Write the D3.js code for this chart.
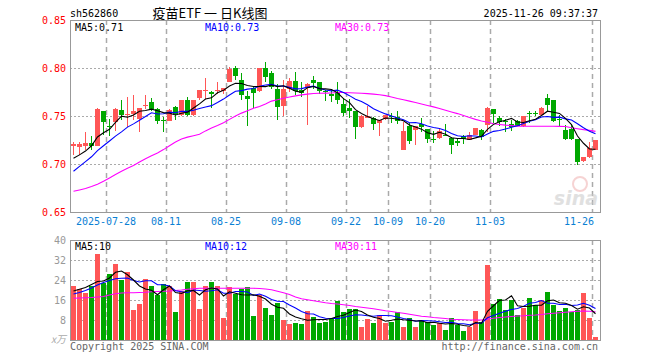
<!DOCTYPE html>
<html>
<head>
<meta charset="utf-8">
<script src="https://cdn.jsdelivr.net/npm/d3@7"></script>
<style>
  body { margin: 0; background: #fff; }
  svg text { font-family: "DejaVu Sans Mono", monospace; font-size: 10px; }
</style>
</head>
<body>
<svg id="chart" width="660" height="360"></svg>
<script>
// trading days shown (2025)
const dates = [
  '07-18','07-21','07-22','07-23','07-24','07-25','07-28','07-29','07-30','07-31',
  '08-01','08-04','08-05','08-06','08-07','08-08','08-11','08-12','08-13','08-14',
  '08-15','08-18','08-19','08-20','08-21','08-22','08-25','08-26','08-27','08-28',
  '08-29','09-01','09-02','09-03','09-04','09-05','09-08','09-09','09-10','09-11',
  '09-12','09-15','09-16','09-17','09-18','09-19','09-22','09-23','09-24','09-25',
  '09-26','09-29','09-30','10-09','10-10','10-13','10-14','10-15','10-16','10-17',
  '10-20','10-21','10-22','10-23','10-24','10-27','10-28','10-29','10-30','10-31',
  '11-03','11-04','11-05','11-06','11-07','11-10','11-11','11-12','11-13','11-14',
  '11-17','11-18','11-19','11-20','11-21','11-24','11-25','11-26'
];

const open = [
  0.7185,0.7180,0.7191,0.7222,0.7191,0.7556,0.7400,0.7434,0.7566,0.7514,
  0.7525,0.7472,0.7601,0.7650,0.7577,0.7455,0.7452,0.7597,0.7510,0.7662,
  0.7507,0.7683,0.7769,0.7753,0.7757,0.7757,0.7851,0.8000,0.7879,0.7713,
  0.7792,0.7757,0.8000,0.7950,0.7781,0.7601,0.7780,0.7868,0.7774,0.7795,
  0.7879,0.7856,0.7757,0.7732,0.7753,0.7629,0.7584,0.7557,0.7386,0.7484,
  0.7480,0.7430,0.7472,0.7505,0.7485,0.7150,0.7400,0.7349,0.7420,0.7365,
  0.7264,0.7271,0.7306,0.7275,0.7240,0.7296,0.7254,0.7306,0.7358,0.7410,
  0.7573,0.7480,0.7448,0.7421,0.7445,0.7393,0.7528,0.7528,0.7514,0.7688,
  0.7670,0.7465,0.7358,0.7365,0.7264,0.7028,0.7070,0.7150
];
const high = [
  0.7226,0.7226,0.7337,0.7296,0.7584,0.7556,0.7470,0.7584,0.7670,0.7698,
  0.7722,0.7584,0.7722,0.7688,0.7584,0.7490,0.7573,0.7600,0.7668,0.7700,
  0.7668,0.7774,0.7900,0.7757,0.7849,0.7796,0.8012,0.8017,0.7950,0.7765,
  0.7815,0.8000,0.8065,0.7965,0.7830,0.7870,0.7896,0.7955,0.7858,0.7840,
  0.7913,0.7856,0.7774,0.7774,0.7851,0.7688,0.7680,0.7557,0.7508,0.7601,
  0.7486,0.7462,0.7509,0.7528,0.7549,0.7434,0.7427,0.7400,0.7480,0.7365,
  0.7341,0.7365,0.7420,0.7278,0.7261,0.7306,0.7330,0.7376,0.7365,0.7590,
  0.7573,0.7504,0.7469,0.7462,0.7455,0.7497,0.7549,0.7556,0.7590,0.7729,
  0.7670,0.7514,0.7410,0.7410,0.7264,0.7070,0.7226,0.7247
];
const low = [
  0.7098,0.7096,0.7145,0.7150,0.7191,0.7299,0.7289,0.7341,0.7462,0.7386,
  0.7462,0.7330,0.7577,0.7549,0.7417,0.7330,0.7445,0.7455,0.7497,0.7500,
  0.7498,0.7665,0.7675,0.7580,0.7730,0.7727,0.7851,0.7879,0.7670,0.7400,
  0.7584,0.7747,0.7850,0.7778,0.7462,0.7497,0.7752,0.7718,0.7700,0.7410,
  0.7781,0.7730,0.7660,0.7646,0.7627,0.7502,0.7482,0.7257,0.7375,0.7480,
  0.7358,0.7289,0.7462,0.7424,0.7420,0.7143,0.7212,0.7201,0.7330,0.7219,
  0.7219,0.7261,0.7289,0.7100,0.7188,0.7207,0.7247,0.7299,0.7247,0.7334,
  0.7425,0.7398,0.7334,0.7340,0.7393,0.7382,0.7427,0.7497,0.7504,0.7549,
  0.7434,0.7393,0.7254,0.7254,0.6994,0.7018,0.7063,0.7143
];
const close = [
  0.7212,0.7210,0.7219,0.7190,0.7577,0.7434,0.7386,0.7577,0.7514,0.7525,
  0.7549,0.7584,0.7618,0.7577,0.7448,0.7448,0.7559,0.7520,0.7663,0.7510,
  0.7668,0.7768,0.7774,0.7725,0.7776,0.7792,0.7993,0.7913,0.7718,0.7673,
  0.7737,0.8000,0.7903,0.7800,0.7590,0.7781,0.7866,0.7760,0.7740,0.7830,
  0.7840,0.7757,0.7748,0.7705,0.7662,0.7531,0.7549,0.7382,0.7504,0.7504,
  0.7418,0.7462,0.7507,0.7495,0.7452,0.7340,0.7237,0.7400,0.7386,0.7261,
  0.7261,0.7348,0.7295,0.7202,0.7222,0.7261,0.7300,0.7376,0.7282,0.7584,
  0.7525,0.7438,0.7445,0.7382,0.7400,0.7497,0.7524,0.7525,0.7584,0.7618,
  0.7445,0.7462,0.7264,0.7264,0.7018,0.7070,0.7167,0.7247
];

const ma5 = [
  0.7060,0.7095,0.7135,0.7190,0.7282,0.7326,0.7361,0.7433,0.7498,0.7487,
  0.7510,0.7550,0.7558,0.7571,0.7555,0.7535,0.7530,0.7510,0.7528,0.7540,
  0.7584,0.7626,0.7677,0.7689,0.7742,0.7767,0.7812,0.7840,0.7838,0.7818,
  0.7807,0.7808,0.7806,0.7823,0.7806,0.7815,0.7788,0.7759,0.7747,0.7795,
  0.7807,0.7785,0.7783,0.7776,0.7742,0.7681,0.7639,0.7566,0.7526,0.7494,
  0.7471,0.7454,0.7479,0.7477,0.7467,0.7451,0.7406,0.7385,0.7363,0.7325,
  0.7309,0.7331,0.7310,0.7273,0.7266,0.7266,0.7256,0.7272,0.7288,0.7361,
  0.7413,0.7441,0.7455,0.7475,0.7438,0.7432,0.7450,0.7466,0.7506,0.7550,
  0.7539,0.7527,0.7475,0.7411,0.7291,0.7216,0.7157,0.7153
];
const ma10 = [
  0.6925,0.6975,0.7025,0.7075,0.7140,0.7190,0.7240,0.7290,0.7335,0.7384,
  0.7418,0.7456,0.7495,0.7534,0.7521,0.7523,0.7540,0.7534,0.7549,0.7548,
  0.7560,0.7578,0.7594,0.7608,0.7641,0.7676,0.7719,0.7758,0.7764,0.7780,
  0.7787,0.7810,0.7823,0.7831,0.7812,0.7811,0.7798,0.7783,0.7785,0.7801,
  0.7811,0.7787,0.7771,0.7762,0.7769,0.7744,0.7712,0.7674,0.7651,0.7618,
  0.7576,0.7547,0.7522,0.7501,0.7480,0.7461,0.7430,0.7432,0.7420,0.7396,
  0.7380,0.7369,0.7348,0.7318,0.7295,0.7287,0.7294,0.7291,0.7281,0.7313,
  0.7340,0.7349,0.7364,0.7382,0.7399,0.7423,0.7445,0.7460,0.7490,0.7494,
  0.7486,0.7488,0.7470,0.7458,0.7420,0.7377,0.7342,0.7314
];
const ma30 = [
  0.6716,0.6730,0.6745,0.6765,0.6790,0.6820,0.6855,0.6890,0.6925,0.6955,
  0.6985,0.7020,0.7055,0.7085,0.7115,0.7150,0.7190,0.7230,0.7260,0.7280,
  0.7295,0.7310,0.7345,0.7375,0.7400,0.7430,0.7465,0.7500,0.7530,0.7555,
  0.7580,0.7600,0.7625,0.7655,0.7670,0.7685,0.7698,0.7710,0.7720,0.7728,
  0.7735,0.7737,0.7738,0.7740,0.7745,0.7745,0.7742,0.7740,0.7737,0.7733,
  0.7728,0.7722,0.7712,0.7698,0.7682,0.7670,0.7655,0.7640,0.7625,0.7610,
  0.7595,0.7578,0.7560,0.7542,0.7525,0.7505,0.7485,0.7465,0.7448,0.7435,
  0.7420,0.7412,0.7405,0.7400,0.7395,0.7393,0.7393,0.7393,0.7393,0.7393,
  0.7393,0.7392,0.7390,0.7378,0.7368,0.7358,0.7350,0.7340
];

// volume, in 万 (10k) shares
const volume = [
  21.6,20.4,18.9,21.6,34.4,22.7,26.4,30.4,24.0,27.2,
  12.0,14.4,24.3,21.6,18.0,22.4,21.6,11.3,19.7,23.3,
  23.3,12.4,21.6,23.3,21.6,8.9,21.1,18.4,20.3,21.1,
  9.6,18.0,12.8,10.0,14.9,8.0,6.4,6.9,6.4,11.6,
  9.1,6.9,7.2,8.3,15.6,11.3,12.4,12.4,5.3,8.4,
  6.9,10.0,6.9,7.3,11.1,5.3,8.8,5.3,8.0,7.3,
  6.0,6.7,4.0,8.8,6.0,3.7,5.1,11.6,7.3,30.0,
  14.3,16.4,12.0,16.0,10.0,12.7,16.8,14.0,16.0,19.1,
  14.0,11.6,12.8,11.3,12.0,18.9,8.9,1.2
];
const vma5 = [
  19.6,20.3,21.0,22.2,23.4,23.6,24.8,27.1,27.6,26.1,
  24.0,21.6,20.4,19.9,18.1,20.1,21.6,19.0,18.6,19.7,
  19.8,18.0,20.1,20.8,20.4,17.6,19.3,18.7,18.1,18.0,
  18.1,17.5,16.4,14.3,13.1,12.7,10.4,9.2,8.5,7.9,
  8.1,8.2,8.2,8.6,9.4,9.9,11.0,12.0,11.4,10.0,
  9.1,8.6,7.5,7.9,8.4,8.1,7.9,7.6,7.7,6.9,
  7.1,6.7,6.4,6.6,6.3,5.8,5.5,7.0,6.7,11.5,
  13.7,15.9,16.0,17.7,13.7,13.4,13.5,13.9,13.9,15.7,
  16.0,14.9,14.7,13.8,12.3,13.3,12.8,10.5
];
const vma10 = [
  18.4,19.0,19.8,20.8,22.0,23.0,23.8,24.5,24.7,24.8,
  23.8,23.2,23.7,23.7,22.1,22.1,21.6,19.7,19.3,18.9,
  20.0,19.8,19.5,19.7,20.1,18.7,18.7,19.4,19.4,19.2,
  17.8,18.4,17.5,16.2,15.5,15.4,14.0,12.8,11.4,10.5,
  10.4,9.3,8.7,8.6,8.6,9.0,9.6,10.1,10.0,9.7,
  9.5,9.8,9.8,9.7,9.2,8.6,8.2,7.5,7.8,7.7,
  7.6,7.3,7.0,7.1,6.6,6.5,6.1,6.7,6.7,8.9,
  9.8,10.7,11.5,12.2,12.6,13.5,14.7,15.0,15.8,14.7,
  14.7,14.2,14.3,13.8,14.0,14.7,13.9,12.6
];
const vma30 = [
  16.7,16.8,16.9,17.0,17.2,17.4,18.0,18.5,18.8,18.9,
  18.9,19.0,19.1,19.3,19.4,19.5,19.6,19.8,20.0,20.3,
  20.5,20.7,20.7,20.7,20.7,20.7,20.7,20.7,20.7,20.7,
  20.7,20.6,20.4,20.1,19.5,18.9,18.2,17.2,16.5,16.1,
  15.7,15.3,14.9,14.6,14.4,14.1,13.8,13.4,13.1,12.8,
  12.5,12.1,11.7,11.4,11.0,10.7,10.3,9.9,9.5,9.3,
  9.0,8.8,8.6,8.3,8.2,8.1,8.0,8.0,8.0,8.3,
  8.7,9.0,9.2,9.4,9.6,9.7,9.9,10.0,10.2,10.5,
  10.7,10.9,11.1,11.3,11.5,11.6,11.5,11.3
];

const tickDates = ['07-28','08-11','08-25','09-08','09-22','10-09','10-20','11-03','11-26'];
const tickLabels = ['2025-07-28','08-11','08-25','09-08','09-22','10-09','10-20','11-03','11-26'];
const priceTicks = [0.65, 0.70, 0.75, 0.80, 0.85];
const volTicks = [8, 16, 24, 32, 40];

const RED = '#ff5656', GREEN = '#00a800';
const GRID = '#aaaaaa';

const svg = d3.select('#chart');
const left = 70, right = 600;

const x = d3.scaleBand().domain(dates).range([left, left + dates.length * 6]);
const cx = d => x(d) + 3.5;
const y = d3.scaleLinear().domain([0.65, 0.85]).range([212, 20]);
const yv = d3.scaleLinear().domain([0, 40]).range([340, 240]);

// ---- header
svg.append('text').attr('x', 70).attr('y', 13).attr('dy', '0.35em')
  .attr('fill', '#000').text('sh562860');
svg.append('text').attr('x', 210).attr('y', 13).attr('dy', '0.35em')
  .attr('text-anchor', 'middle')
  .style('font-family', '"Noto Sans CJK SC", sans-serif').style('font-size', '13px')
  .attr('fill', '#000').text('疫苗ETF 一 日K线图');
svg.append('text').attr('x', 598).attr('y', 13).attr('dy', '0.35em')
  .attr('text-anchor', 'end').attr('fill', '#000').text('2025-11-26 09:37:37');

function drawPanel(top, bottom, yScale, hTicks) {
  const g = svg.append('g');
  g.selectAll('line.h').data(hTicks).join('line')
    .attr('x1', left).attr('x2', right)
    .attr('y1', d => Math.round(yScale(d)) + 0.5).attr('y2', d => Math.round(yScale(d)) + 0.5)
    .attr('stroke', GRID).attr('stroke-dasharray', '2,2');
  g.selectAll('line.v').data(tickDates).join('line')
    .attr('x1', d => x(d) + 0.5).attr('x2', d => x(d) + 0.5)
    .attr('y1', top).attr('y2', bottom)
    .attr('stroke', GRID).attr('stroke-width', 1.5).attr('stroke-dasharray', '5,4');
  return g;
}

drawPanel(20, 212, y, [0.70, 0.75, 0.80]);
drawPanel(240, 340, yv, [8, 16, 24, 32]);

// sina watermark
const wm = svg.append('g').attr('opacity', 0.55);
wm.append('circle').attr('cx', 580).attr('cy', 184).attr('r', 7)
  .attr('fill', 'none').attr('stroke', '#f0b0b0').attr('stroke-width', 2);
wm.append('text').attr('x', 598).attr('y', 205).attr('text-anchor', 'end')
  .style('font-family', '"DejaVu Sans", sans-serif').style('font-size', '19px')
  .style('font-style', 'italic').style('font-weight', 'bold')
  .attr('fill', '#c8c8c8').text('sina');

// ---- candles
const candles = svg.append('g').attr('shape-rendering', 'crispEdges');
const idx = d3.range(dates.length);
const col = i => close[i] >= open[i] ? RED : GREEN;

candles.selectAll('line').data(idx).join('line')
  .attr('x1', i => Math.floor(cx(dates[i])) + 0.5)
  .attr('x2', i => Math.floor(cx(dates[i])) + 0.5)
  .attr('y1', i => y(high[i])).attr('y2', i => y(low[i]))
  .attr('stroke', col);

candles.selectAll('rect').data(idx).join('rect')
  .attr('x', i => x(dates[i]) + 1).attr('width', 5)
  .attr('y', i => y(Math.max(open[i], close[i])))
  .attr('height', i => Math.max(1, Math.abs(y(open[i]) - y(close[i]))))
  .attr('fill', col);

// ---- volume bars
svg.append('g').attr('shape-rendering', 'crispEdges')
  .selectAll('rect').data(idx).join('rect')
  .attr('x', i => x(dates[i]) + 1).attr('width', 5)
  .attr('y', i => yv(volume[i]))
  .attr('height', i => yv(0) - yv(volume[i]))
  .attr('fill', col);

// ---- moving averages
function maLine(values, scale, color) {
  const line = d3.line().x((d, i) => cx(dates[i])).y(d => scale(d));
  svg.append('path').datum(values).attr('d', line)
    .attr('fill', 'none').attr('stroke', color).attr('stroke-width', 1.1);
}
maLine(ma30, y, '#ff00ff');
maLine(ma10, y, '#0000ff');
maLine(ma5, y, '#000000');
maLine(vma30, yv, '#ff00ff');
maLine(vma10, yv, '#0000ff');
maLine(vma5, yv, '#000000');

// ---- frames
svg.append('rect').attr('x', left + 0.5).attr('y', 20.5).attr('width', right - left).attr('height', 192)
  .attr('fill', 'none').attr('stroke', '#999');
svg.append('rect').attr('x', left + 0.5).attr('y', 240.5).attr('width', right - left).attr('height', 100)
  .attr('fill', 'none').attr('stroke', '#999');

// ---- axes
const pAxis = svg.append('g').attr('transform', `translate(${left},0)`)
  .call(d3.axisLeft(y).tickValues(priceTicks).tickSize(0).tickPadding(4).tickFormat(d3.format('.2f')));
pAxis.select('.domain').remove();
pAxis.selectAll('text').attr('fill', '#ff0000')
  .style('font-family', '"DejaVu Sans Mono", monospace').style('font-size', '10px');

const vAxis = svg.append('g').attr('transform', `translate(${left},0)`)
  .call(d3.axisLeft(yv).tickValues(volTicks).tickSize(0).tickPadding(4));
vAxis.select('.domain').remove();
vAxis.selectAll('text').attr('fill', '#999')
  .style('font-family', '"DejaVu Sans Mono", monospace').style('font-size', '10px');
svg.append('text').attr('x', 66).attr('y', yv(0)).attr('dy', '0.32em')
  .attr('text-anchor', 'end').attr('fill', '#aaa')
  .style('font-family', '"Noto Sans CJK SC", sans-serif').style('font-size', '10px')
  .style('font-style', 'italic').text('x万');

// date labels
svg.append('g').selectAll('text').data(tickDates).join('text')
  .attr('x', (d, i) => {
    const w = tickLabels[i].length * 6;
    return Math.min(x(d), right - 6 - w / 2);
  })
  .attr('y', 221).attr('dy', '0.35em').attr('text-anchor', 'middle')
  .attr('fill', '#0a80d4').text((d, i) => tickLabels[i]);

// ---- legends
const legend = (yPos, items) => svg.append('g').selectAll('text').data(items).join('text')
  .attr('x', d => d.x).attr('y', yPos).attr('dy', '0.35em')
  .attr('fill', d => d.c).text(d => d.t);
legend(27, [
  { x: 75, c: '#000', t: 'MA5:0.71' },
  { x: 205, c: '#0000ff', t: 'MA10:0.73' },
  { x: 335, c: '#ff00ff', t: 'MA30:0.73' }
]);
legend(246, [
  { x: 75, c: '#000', t: 'MA5:10' },
  { x: 205, c: '#0000ff', t: 'MA10:12' },
  { x: 335, c: '#ff00ff', t: 'MA30:11' }
]);

// ---- footer
svg.append('text').attr('x', 70).attr('y', 346).attr('dy', '0.35em')
  .attr('fill', '#666').text('Copyright 2025 SINA.COM');
svg.append('text').attr('x', 598).attr('y', 346).attr('dy', '0.35em')
  .attr('text-anchor', 'end').attr('fill', '#666').text('http://finance.sina.com.cn');
</script>
</body>
</html>
